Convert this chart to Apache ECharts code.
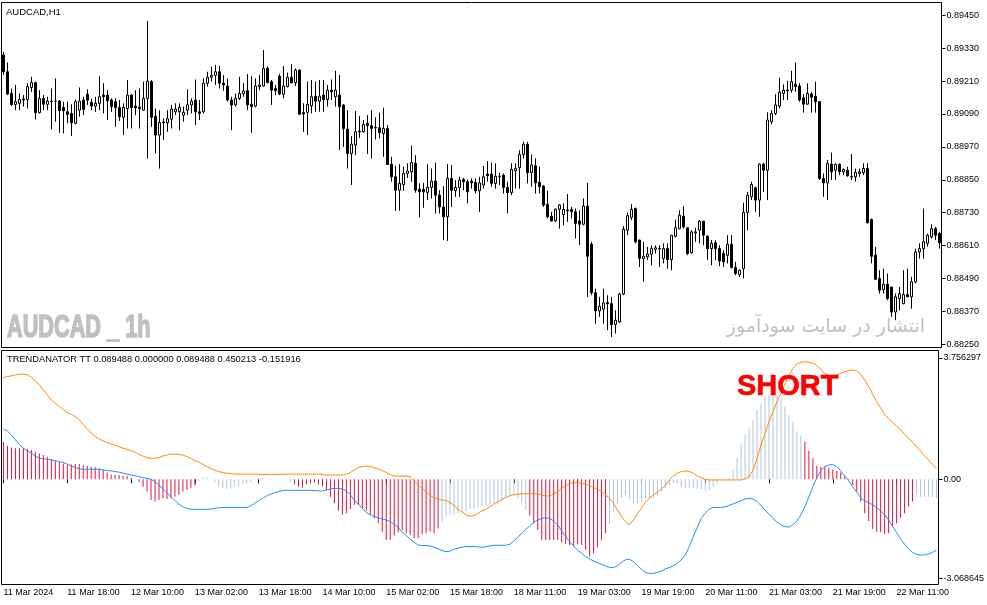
<!DOCTYPE html>
<html><head><meta charset="utf-8">
<script src="https://cdn.jsdelivr.net/npm/echarts@6/dist/echarts.min.js"></script>
<style>html,body{margin:0;padding:0;background:#fff}#c{width:987px;height:605px}</style>
</head><body><div id="c"></div>
<script>
// ---- DATA ----
const tickLabels = ["11 Mar 2024","11 Mar 18:00","12 Mar 10:00","13 Mar 02:00","13 Mar 18:00","14 Mar 10:00","15 Mar 02:00","15 Mar 18:00","18 Mar 11:00","19 Mar 03:00","19 Mar 19:00","20 Mar 11:00","21 Mar 03:00","21 Mar 19:00","22 Mar 11:00"];
const priceTicks = [0.8825,0.8837,0.8849,0.8861,0.8873,0.8885,0.8897,0.8909,0.8921,0.8933,0.8945];
const indTicks = [3.756297, 0, -3.068645];

const open = [0.89305,0.89244,0.89165,0.89125,0.89129,0.89145,0.89143,0.89187,0.89204,0.89095,
0.89147,0.89125,0.89137,0.89137,0.89137,0.89114,0.89098,0.89092,0.89056,0.89104,
0.89141,0.89162,0.89132,0.89119,0.89129,0.89159,0.89159,0.89141,0.89135,0.89114,
0.89078,0.89110,0.89159,0.89119,0.89115,0.89104,0.89147,0.89208,0.89082,0.89013,
0.89058,0.89058,0.89071,0.89098,0.89098,0.89086,0.89104,0.89123,0.89141,0.89098,
0.89098,0.89202,0.89224,0.89231,0.89244,0.89202,0.89192,0.89141,0.89123,0.89147,
0.89164,0.89175,0.89126,0.89119,0.89190,0.89192,0.89256,0.89208,0.89183,0.89228,
0.89162,0.89190,0.89224,0.89204,0.89250,0.89095,0.89096,0.89120,0.89155,0.89137,
0.89159,0.89143,0.89177,0.89153,0.89159,0.89123,0.89035,0.88946,0.88977,0.89025,
0.89025,0.89056,0.89047,0.89041,0.89040,0.89019,0.89037,0.88907,0.88861,0.88812,
0.88833,0.88873,0.88879,0.88910,0.88816,0.88815,0.88804,0.88822,0.88845,0.88794,
0.88751,0.88715,0.88855,0.88810,0.88822,0.88851,0.88843,0.88845,0.88840,0.88810,
0.88831,0.88871,0.88871,0.88837,0.88863,0.88867,0.88822,0.88803,0.88883,0.88894,
0.88942,0.88980,0.88876,0.88901,0.88841,0.88827,0.88761,0.88717,0.88700,0.88743,
0.88723,0.88740,0.88742,0.88733,0.88700,0.88688,0.88754,0.88615,0.88438,0.88372,
0.88378,0.88402,0.88398,0.88322,0.88332,0.88433,0.88666,0.88713,0.88745,0.88630,
0.88563,0.88569,0.88579,0.88596,0.88599,0.88563,0.88599,0.88559,0.88644,0.88672,
0.88717,0.88675,0.88584,0.88656,0.88666,0.88699,0.88644,0.88599,0.88620,0.88599,
0.88581,0.88575,0.88615,0.88530,0.88504,0.88526,0.88731,0.88788,0.88821,0.88776,
0.88907,0.88885,0.89062,0.89092,0.89119,0.89165,0.89174,0.89177,0.89198,0.89192,
0.89149,0.89126,0.89163,0.89155,0.89135,0.88855,0.88839,0.88907,0.88885,0.88907,
0.88879,0.88885,0.88861,0.88861,0.88873,0.88876,0.88891,0.88705,0.88575,0.88490,
0.88450,0.88469,0.88459,0.88368,0.88417,0.88398,0.88431,0.88423,0.88478,0.88587,
0.88599,0.88618,0.88642,0.88672,0.88654];

const close = [0.89244,0.89163,0.89125,0.89135,0.89143,0.89141,0.89190,0.89205,0.89095,0.89146,
0.89126,0.89137,0.89136,0.89137,0.89102,0.89102,0.89089,0.89058,0.89135,0.89137,
0.89107,0.89141,0.89119,0.89129,0.89153,0.89153,0.89138,0.89117,0.89113,0.89080,
0.89114,0.89159,0.89114,0.89113,0.89110,0.89147,0.89210,0.89078,0.89013,0.89059,
0.89061,0.89073,0.89108,0.89108,0.89114,0.89096,0.89123,0.89137,0.89098,0.89092,
0.89202,0.89224,0.89231,0.89244,0.89202,0.89196,0.89141,0.89123,0.89147,0.89165,
0.89174,0.89123,0.89117,0.89192,0.89196,0.89256,0.89205,0.89177,0.89175,0.89163,
0.89192,0.89224,0.89204,0.89250,0.89089,0.89090,0.89125,0.89153,0.89137,0.89155,
0.89143,0.89177,0.89171,0.89177,0.89117,0.89037,0.88946,0.88980,0.89025,0.89028,
0.89052,0.89047,0.89037,0.89040,0.89022,0.89037,0.88906,0.88861,0.88812,0.88837,
0.88873,0.88882,0.88913,0.88812,0.88806,0.88806,0.88822,0.88845,0.88794,0.88751,
0.88715,0.88855,0.88812,0.88822,0.88849,0.88843,0.88806,0.88839,0.88810,0.88839,
0.88861,0.88865,0.88837,0.88863,0.88862,0.88822,0.88803,0.88888,0.88891,0.88942,
0.88980,0.88876,0.88904,0.88839,0.88825,0.88758,0.88715,0.88700,0.88743,0.88758,
0.88742,0.88737,0.88733,0.88691,0.88688,0.88754,0.88571,0.88438,0.88372,0.88389,
0.88401,0.88398,0.88322,0.88338,0.88433,0.88670,0.88719,0.88742,0.88624,0.88563,
0.88571,0.88579,0.88599,0.88602,0.88598,0.88599,0.88559,0.88648,0.88675,0.88721,
0.88678,0.88581,0.88660,0.88660,0.88699,0.88648,0.88599,0.88618,0.88599,0.88554,
0.88551,0.88615,0.88530,0.88508,0.88520,0.88731,0.88794,0.88833,0.88776,0.88907,
0.88885,0.89068,0.89092,0.89123,0.89169,0.89177,0.89177,0.89208,0.89190,0.89141,
0.89126,0.89165,0.89151,0.89135,0.88855,0.88839,0.88910,0.88879,0.88906,0.88879,
0.88888,0.88865,0.88860,0.88877,0.88879,0.88891,0.88693,0.88571,0.88487,0.88447,
0.88469,0.88417,0.88368,0.88423,0.88435,0.88431,0.88423,0.88478,0.88587,0.88599,
0.88624,0.88648,0.88672,0.88648,0.88620];

const high = [0.89317,0.89278,0.89183,0.89196,0.89165,0.89159,0.89202,0.89226,0.89208,0.89177,
0.89159,0.89153,0.89183,0.89220,0.89141,0.89135,0.89135,0.89126,0.89143,0.89187,
0.89153,0.89180,0.89147,0.89153,0.89228,0.89202,0.89177,0.89147,0.89147,0.89141,
0.89129,0.89214,0.89162,0.89177,0.89183,0.89208,0.89430,0.89214,0.89110,0.89104,
0.89074,0.89104,0.89123,0.89129,0.89129,0.89117,0.89180,0.89147,0.89216,0.89141,
0.89220,0.89244,0.89263,0.89269,0.89265,0.89232,0.89220,0.89153,0.89165,0.89226,
0.89202,0.89236,0.89228,0.89220,0.89232,0.89323,0.89263,0.89214,0.89196,0.89236,
0.89265,0.89241,0.89272,0.89256,0.89253,0.89129,0.89208,0.89214,0.89208,0.89214,
0.89214,0.89196,0.89216,0.89248,0.89232,0.89126,0.89104,0.89009,0.89101,0.89082,
0.89068,0.89086,0.89104,0.89078,0.89095,0.89113,0.89050,0.88934,0.88901,0.88907,
0.88898,0.88910,0.88974,0.88940,0.88837,0.88839,0.88907,0.88891,0.88913,0.88812,
0.88827,0.88907,0.88904,0.88849,0.88861,0.88857,0.88851,0.88855,0.88855,0.88861,
0.88901,0.88918,0.88912,0.88910,0.88876,0.88873,0.88843,0.88910,0.88910,0.88958,
0.88989,0.88989,0.88942,0.88928,0.88898,0.88831,0.88810,0.88733,0.88745,0.88761,
0.88764,0.88798,0.88751,0.88745,0.88739,0.88782,0.88839,0.88624,0.88453,0.88423,
0.88453,0.88429,0.88423,0.88374,0.88438,0.88681,0.88731,0.88761,0.88749,0.88632,
0.88624,0.88605,0.88611,0.88611,0.88611,0.88618,0.88618,0.88648,0.88705,0.88739,
0.88754,0.88675,0.88666,0.88675,0.88703,0.88699,0.88648,0.88630,0.88630,0.88611,
0.88593,0.88648,0.88648,0.88551,0.88523,0.88766,0.88806,0.88843,0.88825,0.88910,
0.88912,0.89096,0.89104,0.89162,0.89222,0.89198,0.89211,0.89248,0.89278,0.89202,
0.89162,0.89202,0.89171,0.89208,0.89135,0.88873,0.88922,0.88949,0.88910,0.88910,
0.88891,0.88898,0.88944,0.88891,0.88891,0.88910,0.88910,0.88709,0.88605,0.88520,
0.88526,0.88508,0.88459,0.88435,0.88459,0.88520,0.88526,0.88496,0.88599,0.88618,
0.88745,0.88654,0.88688,0.88678,0.88660];

const low = [0.89232,0.89159,0.89119,0.89104,0.89104,0.89117,0.89110,0.89171,0.89070,0.89092,
0.89104,0.89104,0.89034,0.89062,0.89022,0.89019,0.89056,0.89010,0.89053,0.89080,
0.89086,0.89123,0.89104,0.89098,0.89104,0.89092,0.89068,0.89098,0.89043,0.89065,
0.89013,0.89037,0.89037,0.89086,0.89037,0.89102,0.88928,0.89043,0.88946,0.88891,
0.88995,0.89025,0.89037,0.89086,0.89031,0.89062,0.89086,0.89092,0.89050,0.89068,
0.89092,0.89190,0.89208,0.89196,0.89183,0.89175,0.89135,0.89031,0.89117,0.89141,
0.89153,0.89104,0.89022,0.89114,0.89177,0.89190,0.89202,0.89123,0.89159,0.89159,
0.89147,0.89187,0.89202,0.89192,0.89086,0.89025,0.89013,0.89092,0.89098,0.89098,
0.89098,0.89117,0.89141,0.89117,0.88958,0.88970,0.88891,0.88831,0.88940,0.89003,
0.89022,0.88944,0.88928,0.88997,0.89001,0.88934,0.88904,0.88843,0.88737,0.88737,
0.88810,0.88857,0.88843,0.88803,0.88713,0.88748,0.88776,0.88782,0.88727,0.88727,
0.88630,0.88627,0.88751,0.88788,0.88788,0.88812,0.88764,0.88818,0.88800,0.88733,
0.88818,0.88843,0.88825,0.88818,0.88831,0.88800,0.88727,0.88794,0.88818,0.88818,
0.88928,0.88837,0.88825,0.88800,0.88800,0.88751,0.88709,0.88697,0.88697,0.88672,
0.88684,0.88697,0.88709,0.88636,0.88612,0.88684,0.88423,0.88429,0.88325,0.88350,
0.88325,0.88301,0.88277,0.88289,0.88328,0.88429,0.88648,0.88703,0.88618,0.88532,
0.88478,0.88557,0.88538,0.88581,0.88532,0.88545,0.88526,0.88520,0.88640,0.88669,
0.88672,0.88575,0.88581,0.88624,0.88618,0.88611,0.88557,0.88538,0.88557,0.88535,
0.88532,0.88545,0.88526,0.88502,0.88496,0.88490,0.88666,0.88776,0.88733,0.88715,
0.88806,0.88776,0.89053,0.89086,0.89110,0.89141,0.89141,0.89168,0.89171,0.89135,
0.89095,0.89123,0.89095,0.89095,0.88849,0.88788,0.88776,0.88849,0.88849,0.88867,
0.88867,0.88861,0.88849,0.88843,0.88861,0.88867,0.88691,0.88545,0.88484,0.88435,
0.88435,0.88411,0.88350,0.88338,0.88374,0.88396,0.88423,0.88380,0.88472,0.88563,
0.88563,0.88606,0.88636,0.88630,0.88599];

const hist = [1.16,1.04,0.98,0.96,0.96,0.96,0.94,0.91,0.86,0.80,
0.75,0.70,0.63,0.57,0.53,0.49,0.44,0.46,0.47,0.47,
0.44,0.42,0.39,0.37,0.34,0.29,0.21,0.15,0.13,0.13,
0.11,0.10,0.05,0,-0.09,-0.23,-0.38,-0.64,-0.69,-0.64,
-0.59,-0.61,-0.59,-0.54,-0.48,-0.38,-0.33,-0.26,-0.20,-0.05,
0.03,0.05,0,-0.09,-0.23,-0.28,-0.30,-0.26,-0.23,-0.20,
-0.15,-0.12,-0.07,-0.02,0.03,0.05,0,-0.02,0,0,
-0.02,0,-0.09,-0.15,-0.23,-0.26,-0.15,-0.12,-0.10,-0.15,
-0.22,-0.34,-0.54,-0.74,-0.97,-1.10,-1.05,-0.92,-0.79,-0.79,
-0.90,-0.97,-1.10,-1.21,-1.36,-1.62,-1.88,-1.88,-1.74,-1.64,
-1.57,-1.67,-1.72,-1.82,-1.82,-1.70,-1.67,-1.62,-1.67,-1.52,
-1.31,-1.15,-1.10,-1.08,-1.05,-1.00,-0.98,-0.92,-0.90,-0.85,
-0.81,-0.81,-0.79,-0.77,-0.77,-0.69,-0.54,-0.48,-0.48,-0.59,
-0.74,-0.95,-1.12,-1.36,-1.57,-1.88,-1.88,-1.88,-1.88,-1.88,
-1.95,-2.01,-2.03,-2.08,-2.01,-2.03,-2.19,-2.39,-2.29,-2.11,
-1.88,-1.67,-1.38,-1.02,-0.74,-0.59,-0.48,-0.61,-0.74,-0.74,
-0.70,-0.60,-0.61,-0.57,-0.51,-0.38,-0.28,-0.18,-0.12,-0.12,
-0.23,-0.26,-0.26,-0.28,-0.30,-0.33,-0.36,-0.33,-0.23,-0.12,
-0.02,0.03,0.05,0.32,0.67,1.08,1.37,1.60,1.84,2.14,
2.35,2.56,2.61,2.61,2.61,2.51,2.25,1.99,1.78,1.49,
1.35,1.16,0.88,0.65,0.42,0.39,0.39,0.36,0.29,0.26,
0.22,0.08,-0.02,-0.18,-0.38,-0.69,-1.05,-1.29,-1.54,-1.62,
-1.64,-1.70,-1.67,-1.46,-1.36,-1.19,-1.05,-0.85,-0.69,-0.48,
-0.54,-0.54,-0.54,-0.54,-0.57];

// bar index ranges drawn in crimson (the rest in light steel blue)
const redRanges = [[0,48],[73,109],[132,151],[201,228]];

const orangeLine = [3.15,3.18,3.20,3.23,3.25,3.25,3.23,3.15,3.04,2.92,
2.76,2.61,2.45,2.35,2.25,2.16,2.07,2.01,1.94,1.84,
1.70,1.56,1.43,1.32,1.25,1.19,1.14,1.09,1.06,1.01,
0.96,0.93,0.88,0.84,0.77,0.72,0.67,0.65,0.65,0.67,
0.72,0.75,0.78,0.78,0.77,0.75,0.70,0.65,0.58,0.53,
0.46,0.39,0.34,0.28,0.24,0.21,0.19,0.18,0.16,0.16,
0.16,0.16,0.16,0.16,0.16,0.15,0.15,0.15,0.15,0.15,
0.16,0.16,0.16,0.16,0.16,0.16,0.16,0.16,0.16,0.16,
0.15,0.13,0.13,0.13,0.13,0.13,0.16,0.21,0.29,0.36,
0.40,0.41,0.40,0.36,0.32,0.27,0.21,0.15,0.10,0.10,
0.10,0.10,0.08,-0.05,-0.18,-0.28,-0.38,-0.51,-0.57,-0.61,
-0.64,-0.66,-0.71,-0.81,-0.92,-1.02,-1.10,-1.14,-1.12,-1.05,
-0.98,-0.92,-0.85,-0.77,-0.69,-0.62,-0.56,-0.51,-0.48,-0.46,
-0.45,-0.45,-0.43,-0.45,-0.46,-0.48,-0.52,-0.51,-0.45,-0.38,
-0.28,-0.20,-0.13,-0.10,-0.10,-0.12,-0.15,-0.20,-0.25,-0.31,
-0.38,-0.48,-0.59,-0.74,-0.95,-1.15,-1.31,-1.41,-1.26,-1.05,
-0.90,-0.71,-0.59,-0.48,-0.40,-0.30,-0.20,-0.02,0.11,0.19,
0.24,0.26,0.24,0.19,0.11,0.05,0.00,-0.02,-0.02,-0.02,
-0.02,-0.02,-0.02,-0.02,-0.02,-0.02,0.01,0.08,0.29,0.65,
1.06,1.42,1.78,2.09,2.40,2.66,2.94,3.23,3.43,3.57,
3.62,3.64,3.62,3.59,3.52,3.41,3.28,3.21,3.20,3.23,
3.28,3.33,3.36,3.38,3.35,3.25,3.07,2.87,2.63,2.40,
2.20,2.01,1.87,1.76,1.65,1.53,1.39,1.27,1.14,1.01,
0.88,0.73,0.60,0.46,0.32];

const blueLine = [1.56,1.49,1.37,1.22,1.08,0.96,0.88,0.80,0.72,0.65,
0.63,0.62,0.60,0.57,0.55,0.52,0.47,0.42,0.37,0.32,
0.31,0.31,0.31,0.31,0.31,0.29,0.27,0.26,0.24,0.22,
0.19,0.16,0.13,0.11,0.08,0.05,0.03,0.00,-0.07,-0.18,
-0.30,-0.41,-0.54,-0.66,-0.77,-0.85,-0.90,-0.92,-0.93,-0.93,
-0.93,-0.93,-0.92,-0.90,-0.88,-0.87,-0.87,-0.87,-0.87,-0.87,
-0.87,-0.87,-0.82,-0.74,-0.66,-0.59,-0.52,-0.46,-0.41,-0.38,
-0.35,-0.34,-0.34,-0.34,-0.34,-0.34,-0.34,-0.34,-0.35,-0.36,
-0.36,-0.33,-0.30,-0.28,-0.28,-0.30,-0.36,-0.48,-0.64,-0.77,
-0.90,-1.03,-1.10,-1.15,-1.19,-1.23,-1.26,-1.31,-1.38,-1.49,
-1.64,-1.74,-1.85,-1.95,-2.03,-2.05,-2.05,-2.06,-2.10,-2.15,
-2.20,-2.24,-2.22,-2.16,-2.13,-2.10,-2.08,-2.08,-2.08,-2.09,
-2.10,-2.09,-2.06,-2.04,-2.04,-2.04,-2.04,-2.01,-1.91,-1.79,
-1.67,-1.55,-1.44,-1.33,-1.26,-1.21,-1.19,-1.21,-1.29,-1.41,
-1.60,-1.77,-1.93,-2.06,-2.19,-2.29,-2.39,-2.46,-2.53,-2.58,
-2.63,-2.68,-2.73,-2.73,-2.67,-2.57,-2.49,-2.47,-2.55,-2.67,
-2.79,-2.88,-2.91,-2.91,-2.88,-2.84,-2.77,-2.73,-2.67,-2.60,
-2.49,-2.34,-2.08,-1.77,-1.49,-1.21,-1.05,-0.92,-0.87,-0.87,
-0.87,-0.85,-0.81,-0.76,-0.71,-0.66,-0.61,-0.59,-0.61,-0.69,
-0.81,-0.95,-1.08,-1.21,-1.33,-1.41,-1.46,-1.48,-1.41,-1.29,
-1.10,-0.85,-0.54,-0.23,0.05,0.26,0.39,0.44,0.46,0.39,
0.26,0.10,-0.05,-0.23,-0.40,-0.57,-0.67,-0.72,-0.79,-0.88,
-0.98,-1.10,-1.26,-1.46,-1.65,-1.85,-2.01,-2.15,-2.26,-2.32,
-2.34,-2.34,-2.31,-2.26,-2.19];

// ---- CHART ----
const cats = open.map((_, i) => i);
const isRed = i => redRanges.some(r => i >= r[0] && i <= r[1]);
const histRed = hist.map((v, i) => isRed(i) ? v : null);
const histLight = hist.map((v, i) => isRed(i) ? null : v);
const candles = open.map((o, i) => [o, close[i], low[i], high[i]]);

const FONT = '"Liberation Sans", Arial, sans-serif';
const chart = echarts.init(document.getElementById('c'), null, {renderer: 'canvas'});
const hiddenAxis = {axisLine:{show:false}, axisTick:{show:false}, axisLabel:{show:false}, splitLine:{show:false}};

chart.setOption({
  animation: false,
  backgroundColor: '#fff',
  grid: [
    {left: 1.5, top: 2.5, width: 940, height: 345, show: true, borderColor: '#000', borderWidth: 1, backgroundColor: '#fff'},
    {left: 1.5, top: 350.5, width: 940, height: 234, show: true, borderColor: '#000', borderWidth: 1, backgroundColor: '#fff'}
  ],
  xAxis: [
    Object.assign({type: 'category', gridIndex: 0, data: cats, boundaryGap: true}, hiddenAxis),
    {type: 'category', gridIndex: 1, data: cats, boundaryGap: true,
     axisLine: {show: false}, splitLine: {show: false},
     axisTick: {show: true, interval: 15, alignWithLabel: true, length: 4, lineStyle: {color: '#000'}},
     axisLabel: {interval: 15, align: 'left', margin: 4, fontSize: 9, fontFamily: FONT, color: '#000',
       formatter: (v, idx) => (idx % 16 === 0 ? (tickLabels[idx / 16] || '') : '')}}
  ],
  yAxis: [
    {type: 'value', gridIndex: 0, position: 'right', min: 0.882383, max: 0.894967, scale: true,
     axisLine: {show: false}, splitLine: {show: false},
     axisTick: {show: true, length: 4, lineStyle: {color: '#000'}, customValues: priceTicks},
     axisLabel: {customValues: priceTicks, margin: 5, fontSize: 9, fontFamily: FONT, color: '#000',
       formatter: v => Number(v).toFixed(5)}},
    {type: 'value', gridIndex: 1, position: 'right', min: -3.254, max: 3.984,
     axisLine: {show: false}, splitLine: {show: false},
     axisTick: {show: true, length: 4, lineStyle: {color: '#000'}, customValues: indTicks},
     axisLabel: {customValues: indTicks, margin: 5, fontSize: 9, fontFamily: FONT, color: '#000',
       formatter: v => (Math.abs(v) < 1e-9 ? '0.00' : Number(v).toFixed(6))}}
  ],
  graphic: [
    {type: 'text', x: 6, y: 12, z: 50, style: {text: 'AUDCAD,H1', font: '9.5px ' + FONT, fill: '#000', verticalAlign: 'middle'}},
    {type: 'text', x: 7, y: 328, z: 1, scaleX: 0.7, style: {text: 'AUDCAD _ 1h', font: 'bold 31px "Liberation Sans", sans-serif', fill: '#c0c0c0', stroke: '#c0c0c0', lineWidth: 1.6, verticalAlign: 'middle'}},
    {type: 'text', x: 925, y: 327, z: 1, style: {text: 'انتشار در سایت سودآموز', font: '19px "DejaVu Sans", sans-serif', fill: '#c0c0c0', align: 'right', verticalAlign: 'middle'}},
    {type: 'text', x: 7, y: 359.5, z: 50, style: {text: 'TRENDANATOR TT 0.089488 0.000000 0.089488 0.450213 -0.151916', font: '9.3px ' + FONT, fill: '#000', verticalAlign: 'middle'}},
    {type: 'text', x: 737, y: 386.5, z: 100, style: {text: 'SHORT', font: 'bold 29px ' + FONT, fill: '#ff0000', stroke: '#ff0000', lineWidth: 0.6, verticalAlign: 'middle'}}
  ],
  series: [
    {type: 'candlestick', xAxisIndex: 0, yAxisIndex: 0, data: candles, barWidth: 3,
     itemStyle: {color: '#ffffff', color0: '#000000', borderColor: '#000000', borderColor0: '#000000', borderColorDoji: '#000000', borderWidth: 1}},
    {type: 'bar', xAxisIndex: 1, yAxisIndex: 1, data: histRed, barWidth: 1, barGap: '-100%', itemStyle: {color: '#DC143C'}},
    {type: 'bar', xAxisIndex: 1, yAxisIndex: 1, data: histLight, barWidth: 1, barGap: '-100%', itemStyle: {color: '#B0C4DE'}},
    {type: 'line', xAxisIndex: 1, yAxisIndex: 1, data: orangeLine, symbol: 'none', lineStyle: {color: '#FF8C00', width: 1}, z: 5},
    {type: 'line', xAxisIndex: 1, yAxisIndex: 1, data: blueLine, symbol: 'none', lineStyle: {color: '#1E90FF', width: 1}, z: 5}
  ]
});
</script></body></html>
